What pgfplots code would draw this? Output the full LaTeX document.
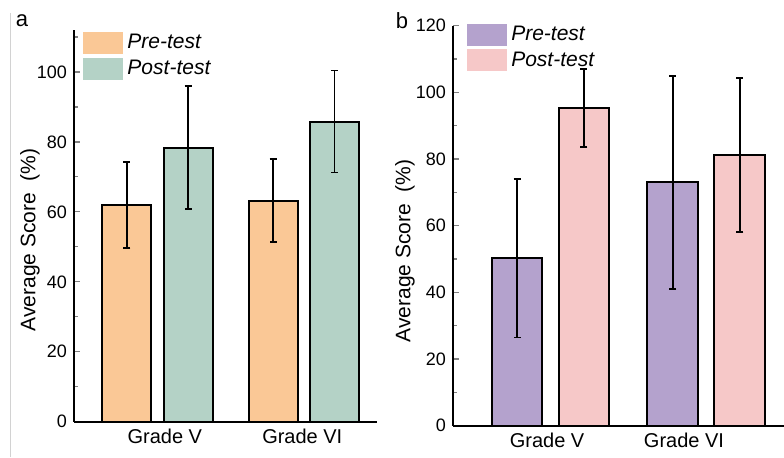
\documentclass[border=0pt]{standalone}
\usepackage{pgfplots}
\pgfplotsset{compat=1.18}
\usepackage{fontspec}
\setmainfont{Liberation Sans}

\definecolor{preA}{RGB}{250,200,150}
\definecolor{postA}{RGB}{180,210,198}
\definecolor{preB}{RGB}{180,162,205}
\definecolor{postB}{RGB}{246,200,200}

\pgfplotsset{
  panel/.style={
    ybar, ymin=0,
    scale only axis,
    axis lines*=left,
    axis line style={line width=0.9pt},
    tick align=inside,
    major tick length=3pt, minor tick length=2pt,
    xtick style={draw=none},
    ytick style={line width=0.6pt},
    /pgf/number format/assume math mode=true,
    yticklabel style={font=\fontsize{9}{10}\selectfont},
    xticklabel style={font=\fontsize{10}{12}\selectfont},
    ylabel={Average Score\ \ (\%)},
    ylabel style={font=\fontsize{10.5}{12}\selectfont, anchor=center},
    legend image code/.code={\path[##1, draw=none] (0pt,-5.5pt) rectangle (20pt,5.5pt);},
    legend cell align=left,
    legend style={draw=none, fill=none, inner sep=0pt, row sep=0pt,
      anchor=north west, font=\itshape\fontsize{10.5}{12}\selectfont},
  },
  bars/.style={draw=black, line width=1pt,
    /pgfplots/error bars/y dir=both,
    /pgfplots/error bars/y explicit,
    /pgfplots/error bars/error bar style={black, line width=0.8pt},
    /pgfplots/error bars/error mark options={black, rotate=90, line width=0.8pt, mark size=1.75pt}},
}

\begin{document}
\begin{tikzpicture}
\useasboundingbox (0,0) rectangle (392pt,228.5pt);
\draw[gray!35, line width=0.5pt] (5pt,0pt) -- (5pt,222pt);
\node[font=\fontsize{11}{12}\selectfont] at (11pt,218pt) {a};
\node[font=\fontsize{11}{12}\selectfont] at (201pt,218pt) {b};

% panel a
\begin{axis}[panel,
  at={(37pt,17.65pt)}, anchor=south west,
  width=151.5pt, height=195.85pt,
  ymax=112, ytick={0,20,...,100}, minor ytick={10,30,...,110},
  xmin=-0.571, xmax=1.501,
  xtick={0.05,0.99}, xticklabels={Grade V, Grade VI},
  bar width=0.335,
  ylabel style={at={(axis description cs:-0.145,0.464)}},
  legend style={at={(axis description cs:0.03,1)}},
]
\addplot[bars, fill=preA, bar shift=-0.21] coordinates {(0,62.0) +- (0,12.3) (1,63.2) +- (0,11.9)};
\addplot[bars, fill=postA, bar shift=0.21] coordinates {(0,78.4) +- (0,17.6) (1,85.8) +- (0,14.6)};
\legend{Pre-test, Post-test}
\end{axis}

% panel b
\begin{axis}[panel,
  at={(226.5pt,15.65pt)}, anchor=south west,
  width=165.5pt, height=200pt,
  ymax=120, ytick={0,20,...,120}, minor ytick={10,30,...,110},
  xmin=-0.626, xmax=1.499,
  xtick={-0.022,0.857}, xticklabels={Grade V, Grade VI},
  bar width=0.327,
  ylabel style={at={(axis description cs:-0.145,0.437)}},
  legend style={at={(axis description cs:0.042,1.01)}},
]
\addplot[bars, fill=preB, bar shift=-0.215] coordinates {(0,50.3) +- (0,23.8) (1,73.0) +- (0,31.9)};
\addplot[bars, fill=postB, bar shift=0.215] coordinates {(0,95.3) +- (0,11.7) (1,81.2) +- (0,23.1)};
\legend{Pre-test, Post-test}
\end{axis}
\end{tikzpicture}
\end{document}
